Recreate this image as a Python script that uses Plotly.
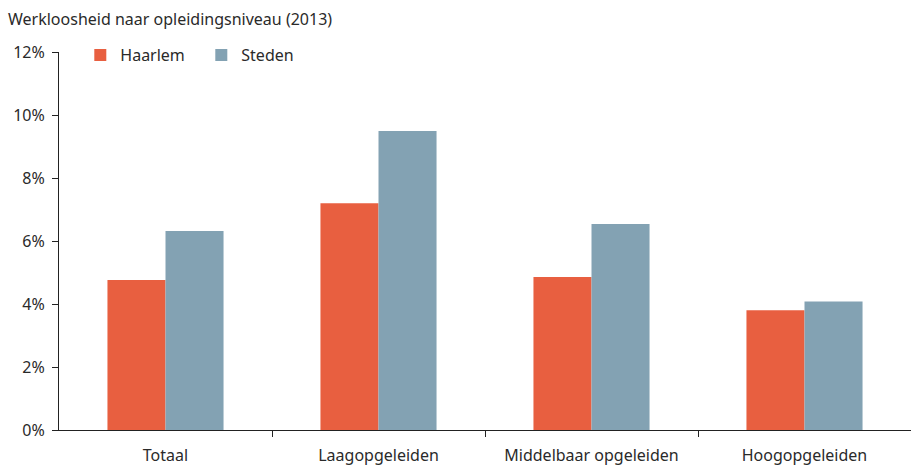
import plotly.graph_objects as go

categories = ["Totaal", "Laagopgeleiden", "Middelbaar opgeleiden", "Hoogopgeleiden"]
haarlem = [4.76, 7.2, 4.86, 3.8]
steden = [6.32, 9.49, 6.54, 4.08]
y_tickvals = [0, 2, 4, 6, 8, 10, 12]
y_ticktext = ["0%", "2%", "4%", "6%", "8%", "10%", "12%"]

FONT = "Noto Sans"
TXT = "#2a2a2a"
FS = 16

fig = go.Figure()
fig.add_trace(go.Bar(name="Haarlem", x=categories, y=haarlem, marker=dict(color="#E85F40", line_width=0)))
fig.add_trace(go.Bar(name="Steden", x=categories, y=steden, marker=dict(color="#83A2B3", line_width=0)))
# empty helper trace so the boundary-tick axis is drawn
fig.add_trace(go.Scatter(x=[], y=[], xaxis="x2", yaxis="y", showlegend=False, hoverinfo="skip"))

n = len(categories)
boundaries = [i + 0.5 for i in range(n - 1)]

fig.update_layout(
    width=911, height=470,
    margin=dict(l=59, r=0, t=52, b=40, autoexpand=False),
    paper_bgcolor="white", plot_bgcolor="white",
    barmode="group", bargap=0.455, bargroupgap=0,
    font=dict(family=FONT, size=FS, color=TXT),
    title=dict(text="Werkloosheid naar opleidingsniveau (2013)", x=8 / 911, xref="container", xanchor="left",
               y=1 - 19 / 470, yref="container", yanchor="middle",
               font=dict(family=FONT, size=FS, color=TXT)),
    showlegend=True,
    legend=dict(orientation="h", x=0.025, xanchor="left", y=0.992, yanchor="middle",
                entrywidth=76, entrywidthmode="pixels",
                font=dict(family=FONT, size=FS, color=TXT), bgcolor="rgba(0,0,0,0)",
                traceorder="normal"),
    xaxis=dict(type="category", range=[-0.5, n - 0.5], showline=True, linecolor="#222", linewidth=1,
               ticks="outside", ticklen=6, tickcolor="rgba(0,0,0,0)", automargin=False,
               ticklabelstandoff=5,
               showgrid=False, tickfont=dict(family=FONT, size=FS, color=TXT)),
    xaxis2=dict(type="linear", range=[-0.5, n - 0.5], overlaying="x", anchor="y", side="bottom",
                tickvals=boundaries, ticktext=["" for _ in boundaries], ticks="outside", ticklen=6,
                tickcolor="#222", showline=False, showgrid=False, zeroline=False, automargin=False),
    yaxis=dict(range=[0, 12], tickvals=y_tickvals, ticktext=y_ticktext, showline=True, automargin=False,
               linecolor="#222", linewidth=1, ticks="outside", ticklen=6, tickcolor="#222",
               ticklabelstandoff=4,
               showgrid=False, zeroline=False, tickfont=dict(family=FONT, size=FS, color=TXT)),
)

fig.write_html("out.html", config={"displayModeBar": False},
               post_script="document.body.style.margin='0';")
